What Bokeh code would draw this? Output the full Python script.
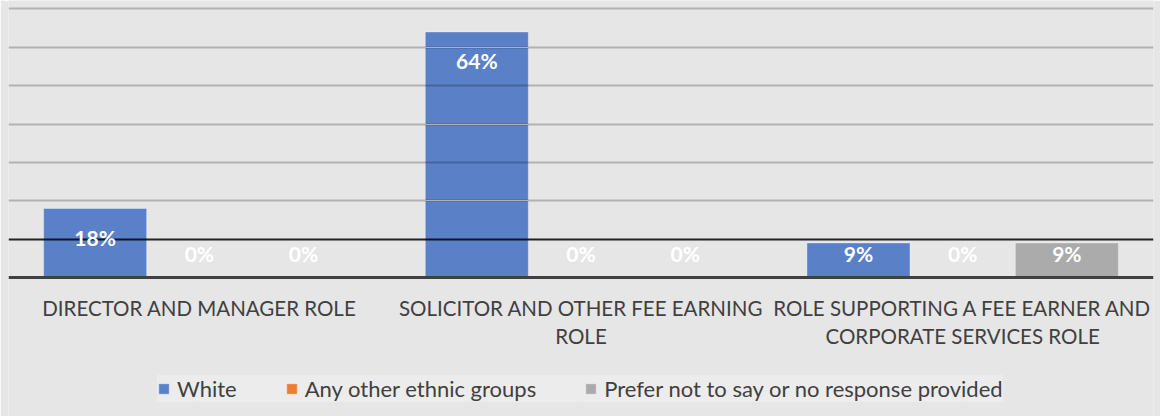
from bokeh.plotting import figure
from bokeh.models import (FactorRange, Range1d, Grid, FixedTicker, ColumnDataSource,
                          Legend, LegendItem)
from bokeh.transform import dodge
from bokeh.core.properties import value
from bokeh.embed import file_html
from bokeh.resources import INLINE

categories = ["DIRECTOR AND MANAGER ROLE",
              "SOLICITOR AND OTHER FEE EARNING\nROLE",
              "ROLE SUPPORTING A FEE EARNER AND\nCORPORATE SERVICES ROLE"]
series = ["White", "Any other ethnic groups", "Prefer not to say or no response provided"]
white = [18, 64, 9]
other = [0, 0, 0]
prefer = [0, 0, 9]
colors = ["#5A81C8", "#ED7D31", "#ABABAB"]
grid_ticks = [20, 30, 40, 50, 60, 70]

FONT = "Lato"
p = figure(width=1160, height=416, x_range=FactorRange(*categories, range_padding=0),
           y_range=Range1d(-36.24, 72.2), output_backend="svg", toolbar_location=None,
           x_axis_location=None, y_axis_location=None,
           min_border_left=8, min_border_right=7, min_border_top=0, min_border_bottom=0)
p.background_fill_color = "#e6e6e6"
p.border_fill_color = "#e6e6e6"
p.outline_line_color = None

offsets = [-0.273, 0.0, 0.273]
items = []
for vals, name, col, off in zip([white, other, prefer], series, colors, offsets):
    src = ColumnDataSource(dict(cat=categories, v=vals,
                                ly=[max(v - 7.5, 6.3) for v in vals],
                                lab=[f"{v}%" for v in vals]))
    r = p.vbar(x=dodge("cat", off, range=p.x_range), top="v", width=0.27, source=src,
               fill_color=col, line_color="#ffffff", line_alpha=0.35, line_width=1,
               level="underlay")
    items.append(LegendItem(label=name, renderers=[r]))
    p.text(x=dodge("cat", off, range=p.x_range), y="ly", text="lab", source=src,
           text_color="white", text_font=value(FONT), text_font_style="bold",
           text_font_size="21px", text_align="center", text_baseline="middle",
           level="overlay")

g1 = Grid(dimension=1, ticker=FixedTicker(ticks=grid_ticks), grid_line_color="#000000",
          grid_line_alpha=0.22, grid_line_width=2, level="glyph")
g2 = Grid(dimension=1, ticker=FixedTicker(ticks=[10]), grid_line_color="#000000",
          grid_line_alpha=0.85, grid_line_width=2, level="glyph")
g3 = Grid(dimension=1, ticker=FixedTicker(ticks=[0]), grid_line_color="#404040",
          grid_line_width=3, level="glyph")
for g in (g1, g2, g3):
    p.add_layout(g)

lsrc = ColumnDataSource(dict(cat=categories, y=[0] * 3))
p.text(x="cat", y="y", text="cat", source=lsrc, text_color="#404040",
       text_font=value(FONT), text_font_size="20.5px", text_align="center",
       text_baseline="top", y_offset=19, text_line_height=1.13)

legend = Legend(items=items, orientation="horizontal", location=(149, 14),
                label_text_font=FONT, label_text_font_size="22px",
                label_text_color="#404040", glyph_width=13, glyph_height=13,
                label_height=23, label_standoff=7, spacing=48, padding=12, margin=0,
                background_fill_color="#ececec", background_fill_alpha=1,
                border_line_color=None)
p.add_layout(legend, "center")

open("out.html", "w").write(file_html(p, INLINE))
